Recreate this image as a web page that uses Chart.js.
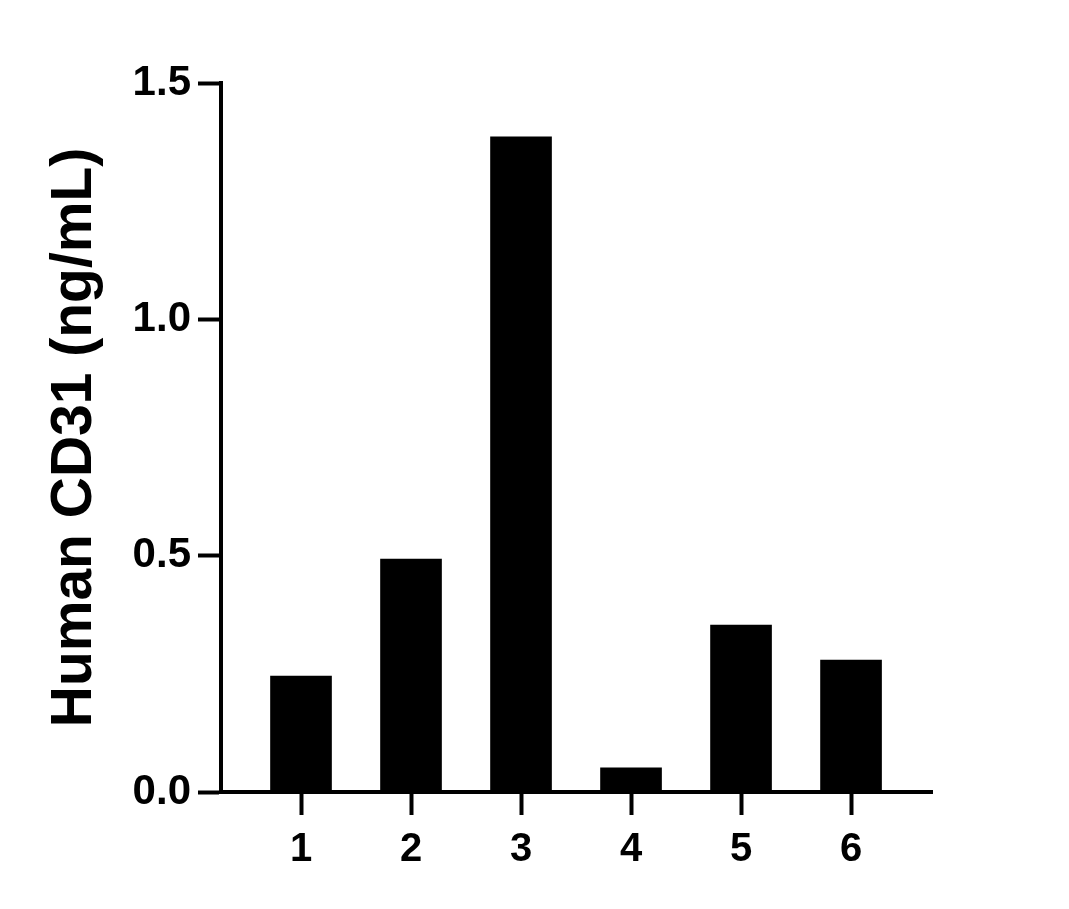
<!DOCTYPE html>
<html>
<head>
<meta charset="utf-8">
<script src="https://cdn.jsdelivr.net/npm/chart.js@4/dist/chart.umd.min.js"></script>
<style>
html,body{margin:0;padding:0;background:#fff;}
#wrap{width:1069px;height:909px;position:relative;}
</style>
</head>
<body>
<div id="wrap"><canvas id="c" width="1069" height="909"></canvas></div>
<script>
const categories = [1, 2, 3, 4, 5, 6];
const values = [0.245, 0.493, 1.386, 0.051, 0.353, 0.279];
const yTicks = [0.0, 0.5, 1.0, 1.5];
const yTitle = 'Human CD31 (ng/mL)';

const font = "'Liberation Sans', Arial, Helvetica, sans-serif";

new Chart(document.getElementById('c'), {
  type: 'bar',
  data: {
    datasets: [{
      data: categories.map((c, i) => ({x: c, y: values[i]})),
      backgroundColor: '#000',
      borderWidth: 0,
      barThickness: 61
    }]
  },
  options: {
    responsive: false,
    animation: false,
    devicePixelRatio: 1,
    layout: {padding: {top: 83, right: 137, left: 0, bottom: 0}},
    plugins: {legend: {display: false}, tooltip: {enabled: false}},
    scales: {
      x: {
        type: 'linear',
        offset: false,
        min: 0.2727,
        max: 6.736,
        afterBuildTicks: s => { s.ticks = categories.map(v => ({value: v})); },
        afterFit: s => { s.height = 117; },
        grid: {display: true, offset: false, drawOnChartArea: false, tickLength: 23, tickWidth: 4, color: '#000'},
        border: {display: true, width: 4, color: '#000'},
        ticks: {color: '#000', padding: 11, font: {family: font, size: 40, weight: 'bold'}, callback: v => String(v)}
      },
      y: {
        min: 0, max: 1.5,
        afterBuildTicks: s => { s.ticks = yTicks.map(v => ({value: v})); },
        afterFit: s => { s.width = 221; },
        grid: {display: true, drawOnChartArea: false, tickLength: 23, tickWidth: 4, color: '#000'},
        border: {display: true, width: 4, color: '#000'},
        ticks: {color: '#000', padding: 7, font: {family: font, size: 42, weight: 'bold'}, callback: v => Number(v).toFixed(1)},
        title: {display: true, text: yTitle, color: '#000', padding: {top: 41, bottom: 0}, font: {family: font, size: 57, weight: 'bold'}}
      }
    }
  }
});
</script>
</body>
</html>
